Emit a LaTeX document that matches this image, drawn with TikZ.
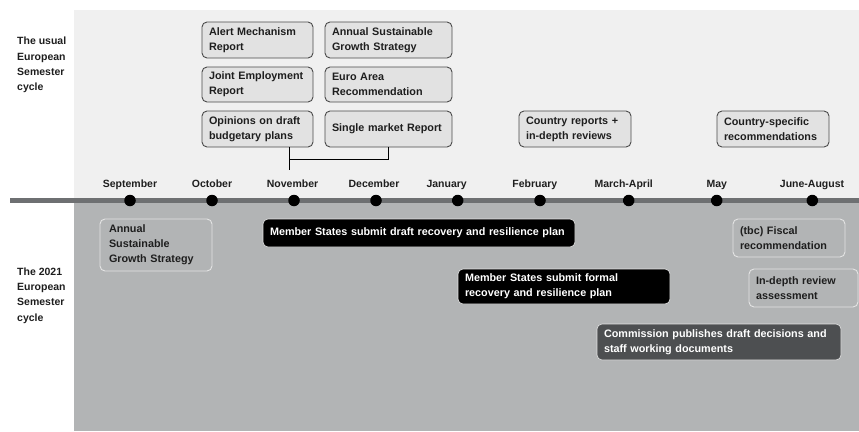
\documentclass[tikz,border=0pt]{standalone}
\usepackage{fontspec}
\setmainfont{Liberation Sans}
\usepackage{tikz}
\usetikzlibrary{positioning,arrows.meta}
\usepackage{xcolor}
\definecolor{panelTop}{HTML}{F0F0F0}
\definecolor{panelBottom}{HTML}{B2B4B5}
\definecolor{barGrey}{HTML}{6E7072}
\definecolor{boxFill}{HTML}{E2E2E2}
\definecolor{boxLine}{HTML}{4A4A4A}
\definecolor{lightLine}{HTML}{E4E4E4}
\definecolor{darkBox}{HTML}{4D4F51}
\definecolor{inkText}{HTML}{1E1E1E}

\begin{document}
\begin{tikzpicture}[x=1pt,y=-1pt,
    every node/.style={text=inkText,font=\fontsize{10.5}{15.3}\selectfont\bfseries},
    month/.style={inner sep=0pt,anchor=base},
    dot/.style={circle,fill=black,inner sep=0pt,minimum size=11.5pt},
    side/.style={anchor=west,align=left,inner sep=0pt},
    topbox/.style={draw=boxLine,fill=boxFill,line width=0.9pt,rounded corners=5pt,inner xsep=7pt,inner ysep=0pt,align=left,font=\fontsize{10.8}{15}\selectfont\bfseries},
    pale/.style={topbox,draw=lightLine,fill=none},
    blackbox/.style={topbox,draw=lightLine,fill=black,text=white,line width=0.6pt},
    greybox/.style={blackbox,fill=darkBox}]
                \useasboundingbox (0,0) rectangle (859,431);
                \fill[panelTop] (74,10) rectangle (859,198);
                \fill[panelBottom] (74,203) rectangle (859,431);
                \fill[barGrey] (10,198) rectangle (859,203);
                \node[side] (usual) at (17,65) {The usual\\European\\Semester\\cycle};
                \node[side] (recent) at (17,295.5) {The 2021\\European\\Semester\\cycle};
                \node[dot] (dsep) at (130,200.5) {};
                \node[dot] (doct) at (212,200.5) {};
                \node[dot] (dnov) at (294,200.5) {};
                \node[dot] (ddec) at (376,200.5) {};
                \node[dot] (djan) at (457.7,200.5) {};
                \node[dot] (dfeb) at (540,200.5) {};
                \node[dot] (dmar) at (628.7,200.5) {};
                \node[dot] (dmay) at (716.7,200.5) {};
                \node[dot] (djun) at (812.3,200.5) {};
                \node[month] (sep) at (130,187) {September};
                \node[month] (oct) at (212,187) {October};
                \node[month] (nov) at (292.5,187) {November};
                \node[month] (dec) at (374,187) {December};
                \node[month] (jan) at (446.7,187) {January};
                \node[month] (feb) at (534.8,187) {February};
                \node[month] (mar) at (623.7,187) {March-April};
                \node[month] (may) at (716.8,187) {May};
                \node[month] (jun) at (812,187) {June-August};
                \node[topbox,text width=97pt,minimum height=36pt] (alert) at (257.5,40) {Alert Mechanism\\Report};
                \node[topbox,text width=113pt,minimum height=36pt] (growth) at (388.5,40) {Annual Sustainable\\Growth Strategy};
                \node[topbox,text width=97pt,minimum height=35pt] (joint) at (257.5,84.5) {Joint Employment\\Report};
                \node[topbox,text width=113pt,minimum height=35pt] (euro) at (388.5,84.5) {Euro Area\\Recommendation};
                \node[topbox,text width=97pt,minimum height=36pt] (opin) at (257.5,129) {Opinions on draft\\budgetary plans};
                \node[topbox,text width=113pt,minimum height=36pt] (single) at (388.5,129) {Single market Report};
                \node[topbox,text width=98pt,minimum height=36pt] (country) at (575,129) {Country reports +\\in-depth reviews};
                \node[topbox,text width=98pt,minimum height=36pt] (csr) at (773,129) {Country-specific\\recommendations};
                \coordinate (join) at (289,159);
                \coordinate (tick) at (289,170);
                \draw[line width=0.8pt] (opin.south -| tick) -- (tick);
                \draw[line width=0.8pt] (single.south) |- (join);
                \node[pale,text width=94pt,inner xsep=9pt,minimum height=52pt] (growthnew) at (156,245) {Annual\\Sustainable\\Growth Strategy};
                \node[blackbox,text width=298pt,minimum height=28pt] (draft) at (419,233) {Member States submit draft recovery and resilience plan};
                \node[blackbox,text width=198pt,minimum height=35pt] (formal) at (564,286.5) {Member States submit formal\\recovery and resilience plan};
                \node[greybox,text width=230pt,minimum height=36pt] (commission) at (719,342) {Commission publishes draft decisions and\\staff working documents};
                \node[pale,text width=98pt,minimum height=38pt] (fiscal) at (789,238) {(tbc) Fiscal\\recommendation};
                \node[pale,text width=95pt,minimum height=38pt] (review) at (803.5,288) {In-depth review\\assessment};
            \end{tikzpicture}
\end{document}
